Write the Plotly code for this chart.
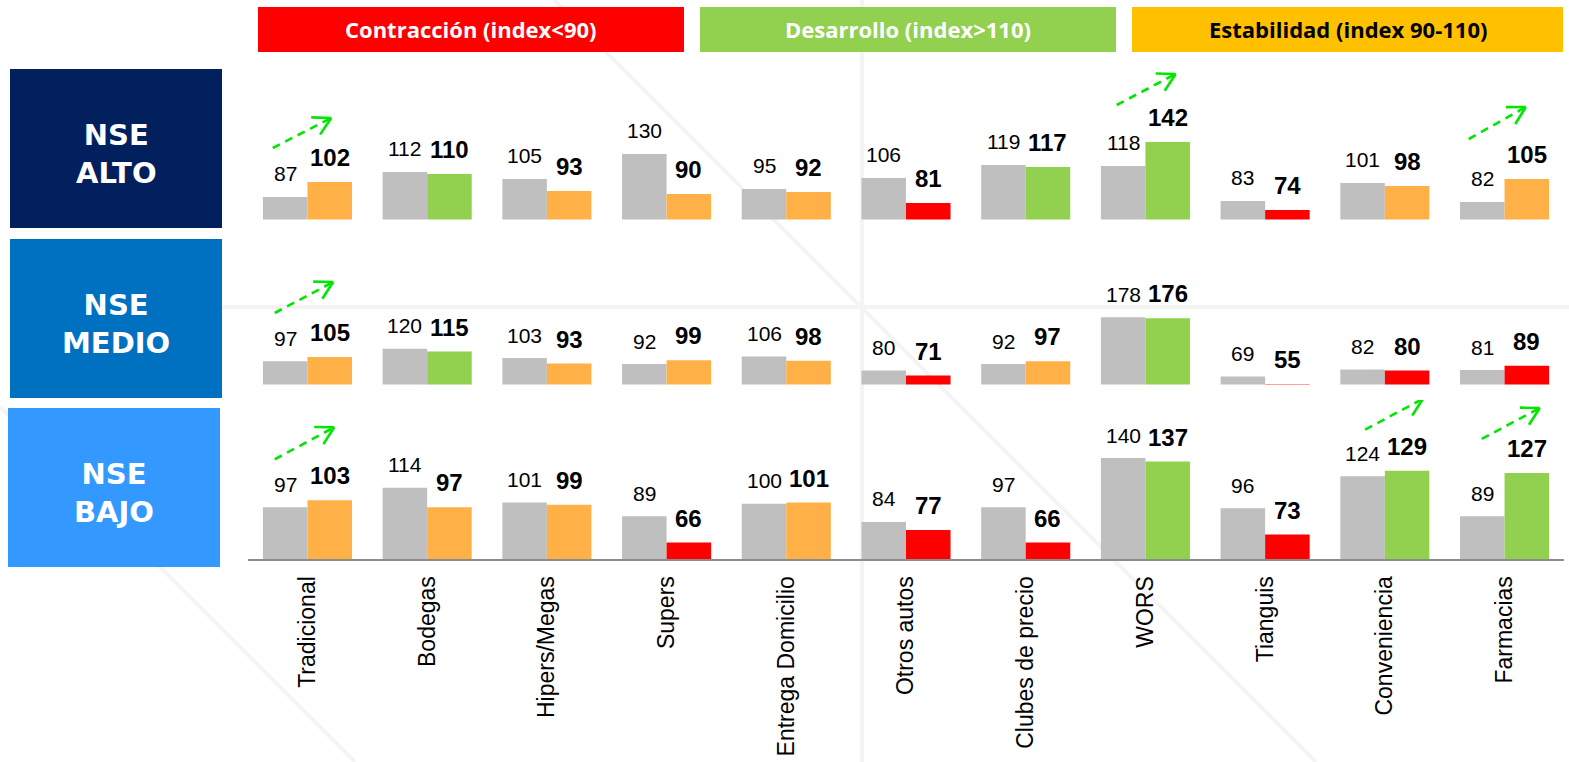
import math
import plotly.graph_objects as go

W, H = 1569, 762

# ---------------------------------------------------------------- data
categories = ["Tradicional", "Bodegas", "Hipers/Megas", "Supers", "Entrega Domicilio",
              "Otros autos", "Clubes de precio", "WORS", "Tianguis", "Conveniencia", "Farmacias"]
segments = ["ALTO", "MEDIO", "BAJO"]

prev_alto = [87, 112, 105, 130, 95, 106, 119, 118, 83, 101, 82]
curr_alto = [102, 110, 93, 90, 92, 81, 117, 142, 74, 98, 105]

prev_medio = [97, 120, 103, 92, 106, 80, 92, 178, 69, 82, 81]
curr_medio = [105, 115, 93, 99, 98, 71, 97, 176, 55, 80, 89]

prev_bajo = [97, 114, 101, 89, 100, 84, 97, 140, 96, 124, 89]
curr_bajo = [103, 97, 99, 66, 101, 77, 66, 137, 73, 129, 127]

legend_labels = ["Contracción (index<90)", "Desarrollo (index>110)", "Estabilidad (index 90-110)"]

# segment / category pairs marked with a growth arrow
growth_marks = [("ALTO", "Tradicional"), ("ALTO", "WORS"), ("ALTO", "Farmacias"),
                ("MEDIO", "Tradicional"),
                ("BAJO", "Tradicional"), ("BAJO", "Conveniencia"), ("BAJO", "Farmacias")]

series = {"ALTO": (prev_alto, curr_alto),
          "MEDIO": (prev_medio, curr_medio),
          "BAJO": (prev_bajo, curr_bajo)}

# ---------------------------------------------------------------- style
GREY = "#BFBFBF"
RED = "#FF0000"
GREEN = "#92D050"
ORANGE = "#FFB147"
ARROW_GREEN = "#00E600"
FONT = "Liberation Sans, Arial, sans-serif"
HEAD_FONT = "Open Sans, sans-serif"
BOX_FONT = "DejaVu Sans, sans-serif"


def index_color(v):
    if v < 90:
        return RED
    if v >= 110:
        return GREEN
    return ORANGE


def px(x):
    return x / W


def py(y):
    return 1 - y / H


# per-row geometry in pixels: axis baseline, top of plotting band,
# value at the baseline and pixels per index point
rows = {
    "ALTO": dict(baseline=219.5, top=60, base=64.5, ppu=1.0,
                 box=(10, 69, 222, 228), color="#03205E"),
    "MEDIO": dict(baseline=384.5, top=235, base=54.5, ppu=0.545,
                  box=(10, 239, 222, 398), color="#0070C0"),
    "BAJO": dict(baseline=559, top=400, base=51.5, ppu=1.14,
                 box=(8, 408, 220, 567), color="#3399FF"),
}

# arrow geometry (pixels, relative to the top centre of the current bar):
# start dx, start dy, tip dx, tip dy
arrow_geom = [(-57, 34, 1.5, 64), (-51, 37, 8, 68), (-58, 40, -1, 72),
              (-55, 44, 3.5, 75), (-55, 41, 4.5, 73), (-42, 41, 16, 72),
              (-45, 34, 13, 65)]

X0, X1 = 247.6, 1564.4
BAR_OFF = 0.186

fig = go.Figure()
annotations = []
shapes = []

# faint background watermark strokes
wm = dict(type="line", xref="paper", yref="paper", layer="below",
          line=dict(color="#F4F4F4", width=4))
for (ax, ay, bx, by) in [(862, 0, 862, H), (222, 307, W, 307),
                         (554, 0, 1316, H), (0, 407, 355, H)]:
    shapes.append(dict(wm, x0=px(ax), y0=py(ay), x1=px(bx), y1=py(by)))

layout_axes = {}
for r, seg in enumerate(segments):
    g = rows[seg]
    sfx = "" if r == 0 else str(r + 1)
    xa, ya = "x" + sfx, "y" + sfx
    prev, curr = series[seg]
    xs = list(range(len(categories)))

    fig.add_trace(go.Bar(x=xs, y=prev, marker=dict(color=GREY, line=dict(width=0)),
                         xaxis=xa, yaxis=ya, showlegend=False, hoverinfo="skip",
                         offsetgroup="a"))
    fig.add_trace(go.Bar(x=xs, y=curr, marker=dict(color=[index_color(v) for v in curr],
                                                   line=dict(width=0)),
                         xaxis=xa, yaxis=ya, showlegend=False, hoverinfo="skip",
                         offsetgroup="b"))

    top_val = g["base"] + (g["baseline"] - g["top"]) / g["ppu"]
    layout_axes["xaxis" + sfx] = dict(
        domain=[px(X0), px(X1)], range=[-0.5, len(categories) - 0.5], anchor=ya,
        showgrid=False, zeroline=False, fixedrange=True,
        showticklabels=(seg == "BAJO"), ticks="",
        tickmode="array", tickvals=xs, ticktext=categories, tickangle=-90,
        tickfont=dict(family=FONT, size=23, color="#000000"),
        ticklabelstandoff=6,
        showline=(seg == "BAJO"), linecolor="#8C8C8C", linewidth=2)
    layout_axes["yaxis" + sfx] = dict(
        domain=[py(g["baseline"]), py(g["top"])], range=[g["base"], top_val],
        anchor=xa, visible=False, fixedrange=True)

    # value labels
    for i in xs:
        for val, off, size, bold in [(prev[i], -BAR_OFF, 21, False),
                                     (curr[i], BAR_OFF, 24, True)]:
            annotations.append(dict(
                x=i + off, y=val, xref=xa, yref=ya, xanchor="center", yanchor="bottom",
                text=f"<b>{val}</b>" if bold else str(val), showarrow=False,
                yshift=15 - (0.212 * size + 1),
                font=dict(family=FONT, size=size, color="#000000")))

    # segment header box
    bx0, by0, bx1, by1 = g["box"]
    shapes.append(dict(type="rect", xref="paper", yref="paper",
                       x0=px(bx0), x1=px(bx1), y0=py(by1), y1=py(by0),
                       fillcolor=g["color"], line=dict(width=0)))
    annotations.append(dict(x=px((bx0 + bx1) / 2), y=py(by0 + 85), xref="paper", yref="paper",
                            xanchor="center", yanchor="middle", showarrow=False,
                            text=f"<b>NSE<br>{seg}</b>",
                            font=dict(family=BOX_FONT, size=29, color="#FFFFFF")))

# growth arrows: dashed shaft with an open chevron head
for (seg, cat), (sx, sy, tx, ty) in zip(growth_marks, arrow_geom):
    r = segments.index(seg)
    sfx = "" if r == 0 else str(r + 1)
    i = categories.index(cat)
    val = series[seg][1][i]
    common = dict(type="line", xref="x" + sfx, yref="y" + sfx,
                  xsizemode="pixel", ysizemode="pixel", xanchor=i + BAR_OFF, yanchor=val)
    shapes.append(dict(common, x0=sx, y0=sy, x1=tx, y1=ty,
                       line=dict(color=ARROW_GREEN, width=2.6, dash="8px,6px")))
    ang = math.atan2(ty - sy, tx - sx)
    for s in (1, -1):
        a = ang + math.pi + s * math.radians(29)
        shapes.append(dict(common, x0=tx, y0=ty,
                           x1=tx + 20 * math.cos(a), y1=ty + 20 * math.sin(a),
                           line=dict(color=ARROW_GREEN, width=2.6)))

# legend header bars
for label, (lx0, lx1), fill, fcolor in zip(
        legend_labels, [(258, 684), (700, 1116), (1132, 1563)],
        [RED, GREEN, "#FFC000"], ["#FFFFFF", "#FFFFFF", "#000000"]):
    shapes.append(dict(type="rect", xref="paper", yref="paper",
                       x0=px(lx0), x1=px(lx1), y0=py(52), y1=py(7),
                       fillcolor=fill, line=dict(width=0)))
    annotations.append(dict(x=px((lx0 + lx1) / 2), y=py(29.5), xref="paper", yref="paper",
                            xanchor="center", yanchor="middle", showarrow=False,
                            text=f"<b>{label}</b>",
                            font=dict(family=HEAD_FONT, size=22, color=fcolor)))

fig.update_layout(
    width=W, height=H, margin=dict(l=0, r=0, t=0, b=0),
    paper_bgcolor="#FFFFFF", plot_bgcolor="rgba(0,0,0,0)",
    barmode="group", bargap=0.256, bargroupgap=0,
    annotations=annotations, shapes=shapes, showlegend=False,
    **layout_axes)

fig.write_html("out.html")
